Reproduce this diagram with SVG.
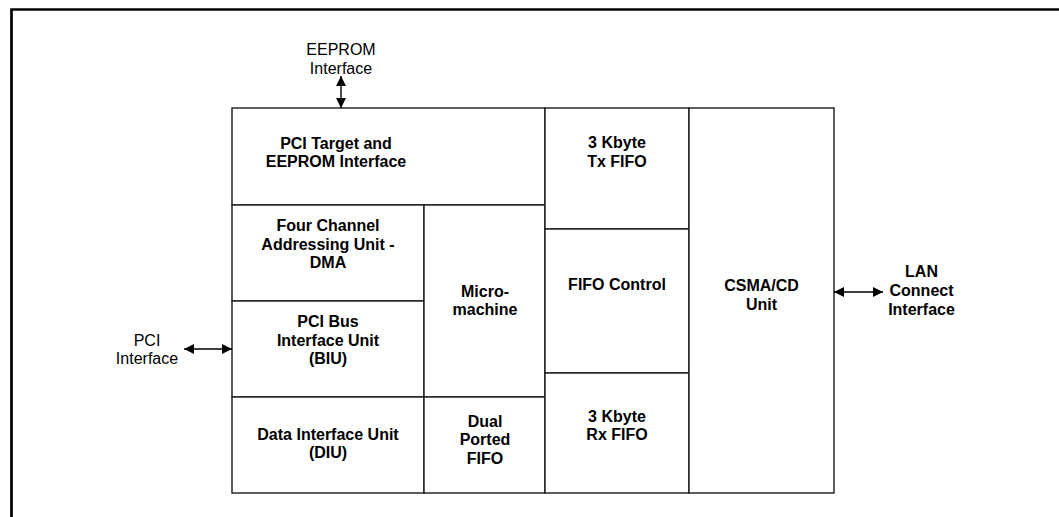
<svg xmlns="http://www.w3.org/2000/svg" width="1059" height="517" viewBox="0 0 1059 517">
  <style>
    .box { fill: #ffffff; stroke: #1a1a1a; stroke-width: 1.4; }
    .b { font-family: "Liberation Sans", Arial, sans-serif; font-size: 16px; font-weight: bold; fill: #000; text-anchor: middle; }
    .r { font-family: "Liberation Sans", Arial, sans-serif; font-size: 16px; fill: #000; text-anchor: middle; }
    .conn { stroke: #000; stroke-width: 1.4; fill: none; marker-start: url(#ah); marker-end: url(#ah); }
  </style>
  <defs>
    <marker id="ah" viewBox="0 0 10 10" refX="10" refY="5" markerWidth="10" markerHeight="10" markerUnits="userSpaceOnUse" orient="auto-start-reverse">
      <path d="M0,0 L10,5 L0,10 z" fill="#000"/>
    </marker>
  </defs>
  <rect width="1059" height="517" fill="#ffffff"/>
  <path d="M11.5 517 V9.5 H1059" fill="none" stroke="#000" stroke-width="2.7"/>

  <g id="pci-target">
    <rect class="box" x="232" y="108" width="313" height="97"/>
    <text class="b" x="336" y="149">PCI Target and</text>
    <text class="b" x="336" y="167">EEPROM Interface</text>
  </g>
  <g id="four-channel">
    <rect class="box" x="232" y="205" width="192" height="96"/>
    <text class="b" x="328" y="231">Four Channel</text>
    <text class="b" x="328" y="250">Addressing Unit -</text>
    <text class="b" x="328" y="268">DMA</text>
  </g>
  <g id="biu">
    <rect class="box" x="232" y="301" width="192" height="96"/>
    <text class="b" x="328" y="327">PCI Bus</text>
    <text class="b" x="328" y="346">Interface Unit</text>
    <text class="b" x="328" y="364">(BIU)</text>
  </g>
  <g id="diu">
    <rect class="box" x="232" y="397" width="192" height="96"/>
    <text class="b" x="328" y="440">Data Interface Unit</text>
    <text class="b" x="328" y="458">(DIU)</text>
  </g>
  <g id="micromachine">
    <rect class="box" x="424" y="205" width="121" height="192"/>
    <text class="b" x="485" y="297">Micro-</text>
    <text class="b" x="485" y="315">machine</text>
  </g>
  <g id="dual-ported-fifo">
    <rect class="box" x="424" y="397" width="121" height="96"/>
    <text class="b" x="485" y="427">Dual</text>
    <text class="b" x="485" y="445">Ported</text>
    <text class="b" x="485" y="464">FIFO</text>
  </g>
  <g id="tx-fifo">
    <rect class="box" x="545" y="108" width="144" height="121"/>
    <text class="b" x="617" y="148">3 Kbyte</text>
    <text class="b" x="617" y="167">Tx FIFO</text>
  </g>
  <g id="fifo-control">
    <rect class="box" x="545" y="229" width="144" height="144"/>
    <text class="b" x="617" y="290">FIFO Control</text>
  </g>
  <g id="rx-fifo">
    <rect class="box" x="545" y="373" width="144" height="120"/>
    <text class="b" x="617" y="422">3 Kbyte</text>
    <text class="b" x="617" y="440">Rx FIFO</text>
  </g>
  <g id="csma-cd">
    <rect class="box" x="689" y="108" width="145" height="385"/>
    <text class="b" x="761.5" y="291">CSMA/CD</text>
    <text class="b" x="761.5" y="310">Unit</text>
  </g>

  <g id="eeprom-interface">
    <text class="r" x="341" y="55">EEPROM</text>
    <text class="r" x="341" y="74">Interface</text>
  </g>
  <g id="pci-interface">
    <text class="r" x="147" y="346">PCI</text>
    <text class="r" x="147" y="364">Interface</text>
  </g>
  <g id="lan-interface">
    <text class="b" x="921.5" y="277">LAN</text>
    <text class="b" x="921.5" y="296">Connect</text>
    <text class="b" x="921.5" y="315">Interface</text>
  </g>

  <g id="connectors">
    <line class="conn" x1="341" y1="76" x2="341" y2="108"/>
    <line class="conn" x1="184" y1="349" x2="232" y2="349"/>
    <line class="conn" x1="834" y1="292" x2="883" y2="292"/>
  </g>
</svg>
